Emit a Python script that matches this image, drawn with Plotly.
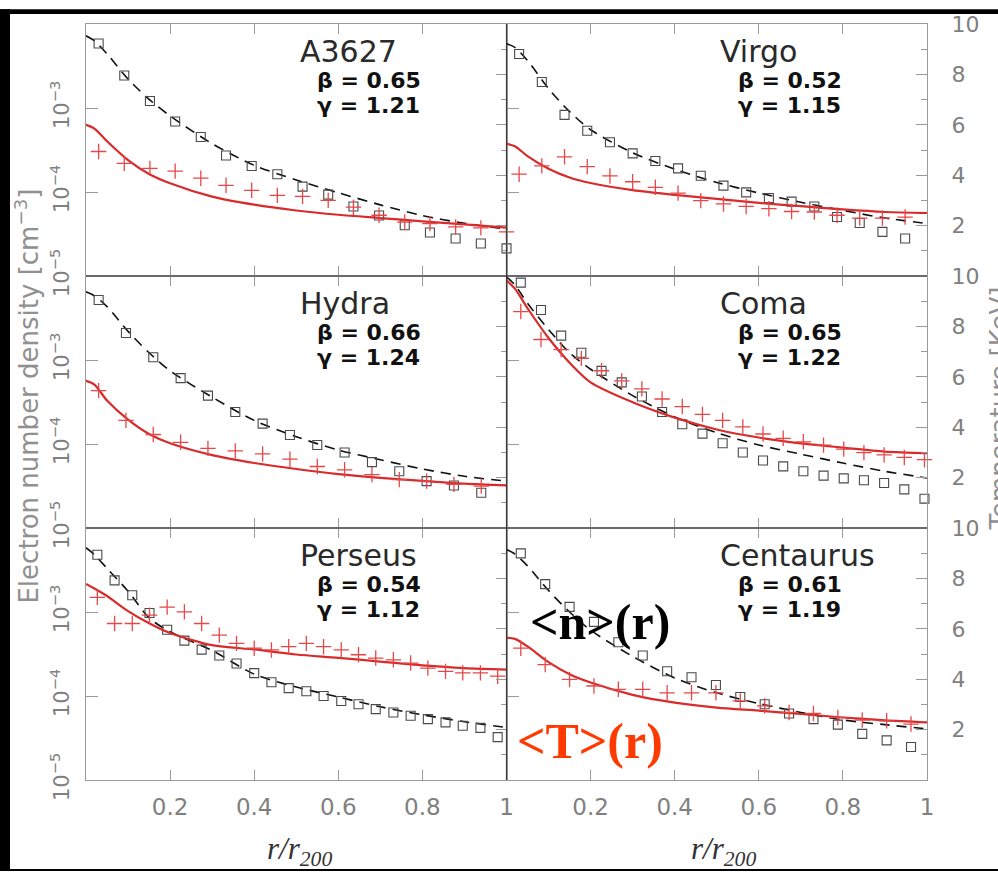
import plotly.graph_objects as go

# ---------------- data ----------------
names = ["A3627", "Virgo", "Hydra", "Coma", "Perseus", "Centaurus"]
betas = ["0.65", "0.52", "0.66", "0.65", "0.54", "0.61"]
gammas = ["1.21", "1.15", "1.24", "1.22", "1.12", "1.19"]

r_model = [0, 0.02, 0.05, 0.1, 0.15, 0.2, 0.3, 0.4, 0.5, 0.6, 0.7, 0.8, 0.9, 1.0]

# A3627
a3627_r = [0.03, 0.091, 0.152, 0.212, 0.273, 0.333, 0.394, 0.455, 0.515, 0.576, 0.636, 0.697, 0.758, 0.818, 0.879, 0.939, 1.0]
a3627_n = [5.86e-3, 2.44e-3, 1.21e-3, 6.90e-4, 4.52e-4, 2.72e-4, 2.04e-4, 1.63e-4, 1.16e-4, 9.31e-5, 6.71e-5, 5.26e-5, 4.02e-5, 3.30e-5, 2.80e-5, 2.44e-5, 2.13e-5]
a3627_T = [4.94, 4.47, 4.27, 4.16, 3.88, 3.60, 3.40, 3.20, 3.16, 3.00, 2.73, 2.41, 2.14, 2.08, 1.95, 1.91, 1.75]
a3627_n_model = [7.23e-3, 6.3e-3, 4.41e-3, 2.21e-3, 1.27e-3, 8.05e-4, 3.76e-4, 2.08e-4, 1.39e-4, 9.8e-5, 7.03e-5, 5.24e-5, 4.24e-5, 3.61e-5]
a3627_T_model = [6.0, 5.85, 5.35, 4.6, 4.05, 3.68, 3.15, 2.83, 2.6, 2.43, 2.3, 2.17, 2.05, 1.92]

# Virgo
virgo_r = [0.03, 0.084, 0.138, 0.192, 0.246, 0.3, 0.354, 0.408, 0.462, 0.516, 0.57, 0.624, 0.678, 0.732, 0.786, 0.84, 0.894, 0.948]
virgo_n = [4.39e-3, 2.04e-3, 8.28e-4, 5.36e-4, 3.91e-4, 2.88e-4, 2.34e-4, 1.91e-4, 1.56e-4, 1.19e-4, 9.91e-5, 8.49e-5, 7.69e-5, 6.72e-5, 5.03e-5, 4.28e-5, 3.35e-5, 2.80e-5]
virgo_T = [4.04, 4.37, 4.73, 4.34, 3.97, 3.74, 3.52, 3.29, 2.99, 2.86, 2.76, 2.67, 2.56, 2.54, 2.41, 2.30, 2.30, 2.34]
virgo_n_model = [5.82e-3, 5.27e-3, 3.67e-3, 1.70e-3, 9.06e-4, 5.51e-4, 2.93e-4, 1.87e-4, 1.30e-4, 9.73e-5, 7.55e-5, 6.03e-5, 4.90e-5, 4.21e-5]
virgo_T_model = [5.25, 5.15, 4.76, 4.26, 3.91, 3.69, 3.41, 3.22, 3.06, 2.90, 2.77, 2.64, 2.54, 2.50]

# Hydra
hydra_r = [0.03, 0.095, 0.16, 0.225, 0.29, 0.355, 0.42, 0.485, 0.55, 0.615, 0.68, 0.745, 0.81, 0.875, 0.94]
hydra_n = [5.18e-3, 2.10e-3, 1.08e-3, 6.08e-4, 3.77e-4, 2.40e-4, 1.75e-4, 1.28e-4, 9.73e-5, 7.91e-5, 6.08e-5, 4.73e-5, 3.61e-5, 3.21e-5, 2.63e-5]
hydra_T = [5.45, 4.27, 3.71, 3.40, 3.16, 3.06, 2.94, 2.73, 2.44, 2.31, 2.12, 1.92, 1.86, 1.73, 1.66]
hydra_n_model = [6.49e-3, 5.82e-3, 4.32e-3, 2.19e-3, 1.22e-3, 7.43e-4, 3.61e-4, 1.91e-4, 1.22e-4, 8.49e-5, 6.49e-5, 5.04e-5, 4.13e-5, 3.61e-5]
hydra_T_model = [5.84, 5.69, 5.06, 4.30, 3.73, 3.36, 2.89, 2.58, 2.34, 2.14, 1.99, 1.87, 1.76, 1.69]

# Coma
coma_r = [0.034, 0.082, 0.13, 0.178, 0.226, 0.274, 0.322, 0.37, 0.418, 0.466, 0.514, 0.562, 0.61, 0.658, 0.706, 0.754, 0.802, 0.85, 0.898, 0.946, 0.994]
coma_n = [8.35e-3, 3.94e-3, 1.95e-3, 1.22e-3, 7.43e-4, 5.41e-4, 3.67e-4, 2.40e-4, 1.72e-4, 1.33e-4, 1.02e-4, 7.91e-5, 6.37e-5, 5.41e-5, 4.73e-5, 4.2e-5, 3.9e-5, 3.7e-5, 3.44e-5, 2.88e-5, 2.23e-5]
coma_T = [8.59, 7.48, 7.08, 6.73, 6.24, 5.84, 5.52, 5.12, 4.82, 4.51, 4.27, 4.01, 3.73, 3.56, 3.42, 3.29, 3.13, 2.99, 2.90, 2.80, 2.71]
coma_n_model = [9.8e-3, 7.83e-3, 4.73e-3, 2.30e-3, 1.22e-3, 7.76e-4, 3.77e-4, 2.10e-4, 1.36e-4, 9.73e-5, 7.57e-5, 5.93e-5, 4.73e-5, 3.94e-5]
coma_T_model = [9.83, 9.50, 8.72, 7.54, 6.56, 5.78, 4.99, 4.38, 3.91, 3.59, 3.36, 3.19, 3.03, 2.97]

# Perseus
perseus_r = [0.027, 0.068, 0.11, 0.151, 0.193, 0.234, 0.275, 0.317, 0.358, 0.4, 0.441, 0.482, 0.524, 0.565, 0.607, 0.648, 0.689, 0.731, 0.772, 0.813, 0.855, 0.896, 0.938, 0.979]
perseus_n = [4.81e-3, 2.38e-3, 1.58e-3, 9.73e-4, 6.14e-4, 4.56e-4, 3.57e-4, 3.03e-4, 2.44e-4, 1.87e-4, 1.46e-4, 1.24e-4, 1.14e-4, 1.0e-4, 8.73e-5, 7.97e-5, 6.97e-5, 6.37e-5, 5.82e-5, 5.31e-5, 4.85e-5, 4.43e-5, 4.17e-5, 3.24e-5]
perseus_T = [7.25, 6.21, 6.21, 6.54, 6.86, 6.67, 6.21, 5.75, 5.42, 5.23, 5.16, 5.29, 5.42, 5.29, 5.16, 4.97, 4.84, 4.77, 4.64, 4.44, 4.31, 4.25, 4.25, 4.12]
perseus_n_model = [5.82e-3, 4.81e-3, 3.30e-3, 1.77e-3, 8.5e-4, 5.82e-4, 3.48e-4, 1.82e-4, 1.28e-4, 9.73e-5, 7.43e-5, 5.97e-5, 4.94e-5, 4.21e-5]
perseus_T_model = [7.78, 7.6, 7.3, 6.7, 6.22, 5.83, 5.35, 5.18, 4.98, 4.85, 4.7, 4.55, 4.44, 4.38]

# Centaurus
centaurus_r = [0.034, 0.092, 0.15, 0.208, 0.266, 0.324, 0.382, 0.44, 0.498, 0.556, 0.614, 0.672, 0.73, 0.788, 0.846, 0.904, 0.962]
centaurus_n = [4.99e-3, 2.15e-3, 1.15e-3, 7.62e-4, 4.36e-4, 3.03e-4, 1.97e-4, 1.67e-4, 1.35e-4, 9.73e-5, 7.97e-5, 6.19e-5, 5.31e-5, 4.56e-5, 3.54e-5, 2.96e-5, 2.47e-5]
centaurus_T = [5.23, 4.58, 3.99, 3.73, 3.6, 3.6, 3.46, 3.46, 3.46, 3.14, 2.94, 2.68, 2.64, 2.48, 2.38, 2.35, 2.22]
centaurus_n_model = [5.56e-3, 4.9e-3, 3.54e-3, 1.80e-3, 1.0e-3, 6.08e-4, 2.96e-4, 1.64e-4, 1.09e-4, 8.13e-5, 6.37e-5, 5.18e-5, 4.56e-5, 4.06e-5]
centaurus_T_model = [5.65, 5.6, 5.3, 4.68, 4.2, 3.87, 3.38, 3.07, 2.87, 2.75, 2.62, 2.48, 2.37, 2.29]

x_tickvals = [0.2, 0.4, 0.6, 0.8, 1.0]
x_ticktext = ["0.2", "0.4", "0.6", "0.8", "1"]
n_tickvals = [1e-5, 1e-4, 1e-3]
n_ticktext = ["10<sup>\u22125</sup>", "10<sup>\u22124</sup>", "10<sup>\u22123</sup>"]
T_tickvals = [2, 4, 6, 8, 10]
T_ticktext = ["2", "4", "6", "8", "10"]
T_minor = [1, 3, 5, 7, 9]

panels = [
    (a3627_r, a3627_n, a3627_T, a3627_n_model, a3627_T_model),
    (virgo_r, virgo_n, virgo_T, virgo_n_model, virgo_T_model),
    (hydra_r, hydra_n, hydra_T, hydra_n_model, hydra_T_model),
    (coma_r, coma_n, coma_T, coma_n_model, coma_T_model),
    (perseus_r, perseus_n, perseus_T, perseus_n_model, perseus_T_model),
    (centaurus_r, centaurus_n, centaurus_T, centaurus_n_model, centaurus_T_model),
]

# ---------------- styling ----------------
LABEL_GRAY = "#808080"
AXIS_GRAY = "#9a9a9a"
RED_LINE = "#d92b2b"
RED_PLUS = "#e54848"

fig = go.Figure()
layout = {}
annotations = []

def ax_name(kind, i):
    return kind if i == 1 else f"{kind}{i}"

for p, (rd, nd, Td, nm, Tm) in enumerate(panels):
    row, col = p // 2, p % 2
    xi = p + 1
    yn = 2 * p + 1
    yt = 2 * p + 2
    xref = ax_name("x", xi)
    ynref = ax_name("y", yn)
    ytref = ax_name("y", yt)
    xdom = [0, 0.5] if col == 0 else [0.5, 1]
    ydom = [[2 / 3, 1], [1 / 3, 2 / 3], [0, 1 / 3]][row]
    bottom = row == 2

    xa = dict(
        domain=xdom, anchor=ynref, range=[0, 1], showgrid=False, zeroline=False,
        showline=True, linecolor=AXIS_GRAY, linewidth=1, mirror="ticks",
        ticks="inside", ticklen=10, tickcolor=AXIS_GRAY, tickwidth=1,
        tickvals=x_tickvals, showticklabels=bottom,
    )
    if bottom:
        xa.update(ticktext=x_ticktext, ticklabelstandoff=6,
                  tickfont=dict(family="DejaVu Sans", size=23, color=LABEL_GRAY))
    layout[ax_name("xaxis", xi)] = xa

    ya = dict(
        domain=ydom, anchor=xref, type="log", range=[-5, -2], showgrid=False,
        zeroline=False, showline=True, linecolor=AXIS_GRAY, linewidth=1,
        ticks="inside", ticklen=12, tickcolor=AXIS_GRAY, tickwidth=1,
        tickvals=n_tickvals, showticklabels=(col == 0),
    )
    if col == 0:
        ya.update(ticktext=n_ticktext, tickangle=-90, ticklabelstandoff=8,
                  tickfont=dict(family="DejaVu Sans", size=21, color=LABEL_GRAY))
    layout[ax_name("yaxis", yn)] = ya

    ta = dict(
        domain=ydom, anchor=xref, overlaying=ynref, side="right", range=[0, 10],
        showgrid=False, zeroline=False, showline=True, linecolor=AXIS_GRAY, linewidth=1,
        ticks="inside", ticklen=11, tickcolor=AXIS_GRAY, tickwidth=1,
        tickvals=T_tickvals, showticklabels=(col == 1),
        minor=dict(tickvals=T_minor, ticks="inside", ticklen=6, tickcolor=AXIS_GRAY, tickwidth=1),
    )
    if col == 1:
        ta.update(ticktext=T_ticktext, ticklabelstandoff=19,
                  tickfont=dict(family="DejaVu Sans", size=22, color=LABEL_GRAY))
    layout[ax_name("yaxis", yt)] = ta

    fig.add_trace(go.Scatter(
        x=r_model, y=nm, mode="lines", xaxis=xref, yaxis=ynref,
        line=dict(color="#111111", width=1.6, dash="10px,7px", shape="spline", smoothing=0.8),
        showlegend=False, hoverinfo="skip"))
    fig.add_trace(go.Scatter(
        x=rd, y=nd, mode="markers", xaxis=xref, yaxis=ynref, cliponaxis=False,
        marker=dict(symbol="square-open", size=9, color="#4a4a4a", line=dict(width=1.1, color="#4a4a4a")),
        showlegend=False))
    fig.add_trace(go.Scatter(
        x=r_model, y=Tm, mode="lines", xaxis=xref, yaxis=ytref,
        line=dict(color=RED_LINE, width=2.2, shape="spline", smoothing=0.8),
        showlegend=False, hoverinfo="skip"))
    fig.add_trace(go.Scatter(
        x=rd, y=Td, mode="markers", xaxis=xref, yaxis=ytref, cliponaxis=False,
        marker=dict(symbol="cross-thin-open", size=11, color=RED_PLUS, line=dict(width=1.3, color=RED_PLUS)),
        showlegend=False))

    dx = f"{xref} domain"
    dy = f"{ynref} domain"
    annotations.append(dict(x=0.503, y=1 - 28 / 255, xref=dx, yref=dy, xanchor="left", yanchor="middle",
                            text=names[p], showarrow=False,
                            font=dict(family="DejaVu Sans", size=30, color="#2a2a2a")))
    annotations.append(dict(x=0.545, y=1 - 57 / 255, xref=dx, yref=dy, xanchor="left", yanchor="middle",
                            text=f"<b>\u03b2 = {betas[p]}</b>", showarrow=False,
                            font=dict(family="DejaVu Sans", size=22, color="#111111")))
    annotations.append(dict(x=0.545, y=1 - 82 / 255, xref=dx, yref=dy, xanchor="left", yanchor="middle",
                            text=f"<b>\u03b3 = {gammas[p]}</b>", showarrow=False,
                            font=dict(family="DejaVu Sans", size=22, color="#111111")))

# axis titles and labels (paper coordinates; plot area is 86..927 x 15..780 px)
W, H = 841, 765
def px(x):
    return (x - 86) / W
def py(y):
    return (780 - y) / H

annotations += [
    dict(x=px(27), y=py(392), xref="paper", yref="paper", textangle=-90, showarrow=False,
         text="Electron number density [cm<sup>\u22123</sup>]", xanchor="center", yanchor="middle",
         font=dict(family="DejaVu Sans", size=26, color="#909090")),
    dict(x=px(1000), y=py(404), xref="paper", yref="paper", textangle=-90, showarrow=False,
         text="Temperature [KeV]", xanchor="center", yanchor="middle",
         font=dict(family="DejaVu Sans", size=26, color="#909090")),
    dict(x=px(299), y=py(852), xref="paper", yref="paper", showarrow=False,
         text="<i>r/r</i><sub><i>200</i></sub>", xanchor="center", yanchor="middle",
         font=dict(family="Liberation Serif", size=31, color="#333333")),
    dict(x=px(723), y=py(852), xref="paper", yref="paper", showarrow=False,
         text="<i>r/r</i><sub><i>200</i></sub>", xanchor="center", yanchor="middle",
         font=dict(family="Liberation Serif", size=31, color="#333333")),
    dict(x=px(600), y=py(620), xref="paper", yref="paper", showarrow=False,
         text="<b>&lt;n&gt;(r)</b>", xanchor="center", yanchor="middle",
         font=dict(family="Liberation Serif", size=50, color="#000000")),
    dict(x=px(590), y=py(741), xref="paper", yref="paper", showarrow=False,
         text="<b>&lt;T&gt;(r)</b>", xanchor="center", yanchor="middle",
         font=dict(family="Liberation Serif", size=50, color="#ff3a00")),
]

shapes = [
    # black border strips of the original scan
    dict(type="rect", xref="paper", yref="paper", x0=px(0), x1=px(10), y0=py(872), y1=py(0),
         fillcolor="black", line=dict(width=0), layer="above"),
    dict(type="rect", xref="paper", yref="paper", x0=px(0), x1=px(998), y0=py(5), y1=py(0),
         fillcolor="black", line=dict(width=0), layer="above"),
    dict(type="rect", xref="paper", yref="paper", x0=px(0), x1=px(998), y0=py(872), y1=py(870),
         fillcolor="black", line=dict(width=0), layer="above"),
    # panel dividers
    dict(type="line", xref="paper", yref="paper", x0=0.5, x1=0.5, y0=0, y1=1,
         line=dict(color="#3a3a3a", width=1.2), layer="above"),
    dict(type="line", xref="paper", yref="paper", x0=0, x1=1, y0=1 / 3, y1=1 / 3,
         line=dict(color="#3a3a3a", width=1.2), layer="above"),
    dict(type="line", xref="paper", yref="paper", x0=0, x1=1, y0=2 / 3, y1=2 / 3,
         line=dict(color="#3a3a3a", width=1.2), layer="above"),
]

fig.update_layout(
    width=998, height=872,
    margin=dict(l=86, r=71, t=15, b=92, pad=0),
    paper_bgcolor="white", plot_bgcolor="white",
    showlegend=False,
    annotations=annotations, shapes=shapes,
    **layout,
)

# remove the page's default body margin so the figure sits at the window's top-left corner
fig.write_html("out.html", config={"displayModeBar": False},
               post_script="document.body.style.margin='0px';")
